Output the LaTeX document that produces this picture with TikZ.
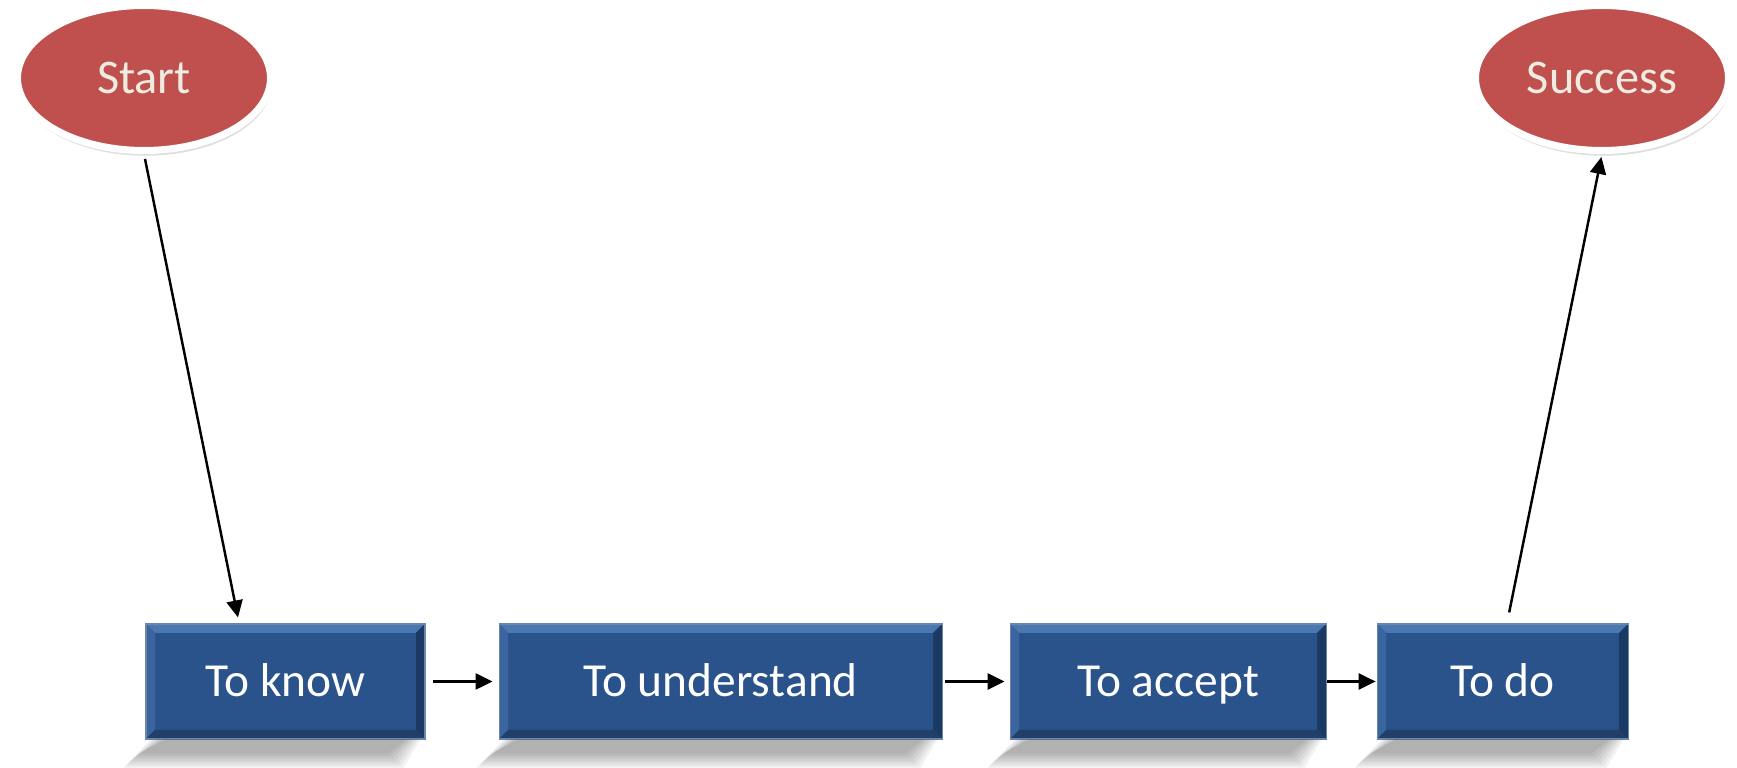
\documentclass[tikz,border=0pt]{standalone}
\usepackage{fontspec}
\setmainfont{Carlito}
\usepackage{tikz}
\usetikzlibrary{positioning}
\usetikzlibrary{calc}
\usetikzlibrary{arrows.meta}
\usetikzlibrary{shapes.geometric}
\usetikzlibrary{shadows}
\definecolor{boxblue}{HTML}{29538A}
\definecolor{bevtop}{HTML}{4B78B0}
\definecolor{bevleft}{HTML}{3A659E}
\definecolor{bevright}{HTML}{1B3A63}
\definecolor{bevbottom}{HTML}{213F69}
\definecolor{boxedge}{HTML}{6A86AD}
\definecolor{ovalred}{HTML}{C0504D}
\definecolor{ovaltext}{HTML}{EEECE1}
\newcommand{\bev}{0.18cm}
\tikzstyle{block} = [draw=boxedge, line width=0.6pt, fill=boxblue, rectangle, minimum height=2.3cm,
  text=white, font=\fontsize{27}{32}\selectfont, text height=0.61cm, text depth=0cm,
  path picture={
    \fill[bevtop] (path picture bounding box.north west) -- (path picture bounding box.north east)
      -- ([shift={(-\bev,-\bev)}]path picture bounding box.north east) -- ([shift={(\bev,-\bev)}]path picture bounding box.north west) -- cycle;
    \fill[bevleft] (path picture bounding box.north west) -- (path picture bounding box.south west)
      -- ([shift={(\bev,\bev)}]path picture bounding box.south west) -- ([shift={(\bev,-\bev)}]path picture bounding box.north west) -- cycle;
    \fill[bevright] (path picture bounding box.north east) -- (path picture bounding box.south east)
      -- ([shift={(-\bev,\bev)}]path picture bounding box.south east) -- ([shift={(-\bev,-\bev)}]path picture bounding box.north east) -- cycle;
    \fill[bevbottom] (path picture bounding box.south west) -- (path picture bounding box.south east)
      -- ([shift={(-\bev,\bev)}]path picture bounding box.south east) -- ([shift={(\bev,\bev)}]path picture bounding box.south west) -- cycle;
  }]
\tikzstyle{terminal} = [ellipse, draw=white, line width=4pt, fill=ovalred, minimum width=5.06cm, minimum height=2.9cm,
  text=ovaltext, font=\fontsize{27.5}{33}\selectfont, text height=0.63cm, text depth=0cm,
  drop shadow={shadow xshift=0.8pt, shadow yshift=-3pt, opacity=0.25}]
\tikzstyle{link} = [-{Triangle[length=0.34cm,width=0.32cm]}, line width=1.4pt]

\begin{document}
\begin{tikzpicture}
    \useasboundingbox (0,0) rectangle (34.74,15.36);
    \node [terminal] (start) at (2.88,13.80) {Start};
    \node [terminal] (success) at (32.04,13.80) {Success};
    \node [block, minimum width=5.58cm] (know) at (5.71,1.73) {To know};
    \node [block, minimum width=8.86cm, right=1.46cm of know] (understand) {To understand};
    \node [block, minimum width=6.32cm, right=1.34cm of understand] (accept) {To accept};
    \node [block, minimum width=5.02cm, right=1.0cm of accept] (todo) {To do};

    \foreach \n in {know,understand,accept,todo}{
      \foreach \k in {0,...,6}{
        \fill[black, opacity=0.05] ($(\n.south west)+(0.1+0.05*\k,0)$) -- ($(\n.south east)+(-0.1-0.05*\k,0)$)
          -- ($(\n.south east)+(-0.45-0.05*\k,-0.58+0.05*\k)$) -- ($(\n.south west)+(-0.45+0.05*\k,-0.58+0.05*\k)$) -- cycle;
      }
    }

    \coordinate (knowin) at ($(know.north)+(-0.95,0.12)$);
    \coordinate (todoout) at ($(todo.north)+(0.13,0.22)$);

    \draw [link, shorten <=0.1cm] (start.south) -- (knowin);
    \draw [link, shorten <=0.14cm, shorten >=0.12cm] (know) -- (understand);
    \draw [link, shorten <=0.04cm, shorten >=0.1cm] (understand) -- (accept);
    \draw [link, shorten >=0.02cm] (accept) -- (todo);
    \draw [link, shorten >=0.06cm] (todoout) -- (success.south);
\end{tikzpicture}
\end{document}
